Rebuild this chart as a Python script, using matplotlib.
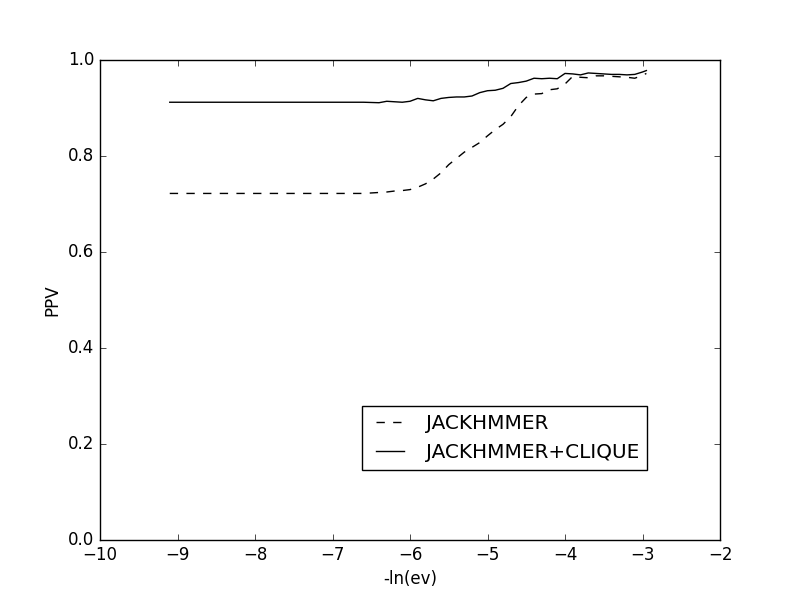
import matplotlib
matplotlib.use("Agg")
import matplotlib.pyplot as plt

plt.style.use("classic")

ln_ev = [-9.1, -6.6, -6.4, -6.3, -6.2, -6.1, -6.0, -5.9, -5.8, -5.7, -5.6, -5.5,
         -5.4, -5.3, -5.2, -5.1, -5.0, -4.9, -4.8, -4.7, -4.6, -4.5, -4.4, -4.3,
         -4.2, -4.1, -4.0, -3.9, -3.8, -3.7, -3.6, -3.5, -3.4, -3.3, -3.2, -3.1,
         -3.0, -2.95]

ppv_jackhmmer = [0.722, 0.722, 0.724, 0.725, 0.727, 0.728, 0.730, 0.735, 0.742,
                 0.752, 0.765, 0.782, 0.795, 0.808, 0.818, 0.828, 0.842, 0.855,
                 0.866, 0.882, 0.905, 0.922, 0.929, 0.930, 0.938, 0.940, 0.950,
                 0.966, 0.964, 0.963, 0.967, 0.967, 0.966, 0.965, 0.964, 0.962,
                 0.968, 0.972]

ppv_clique = [0.912, 0.912, 0.911, 0.914, 0.913, 0.912, 0.914, 0.920, 0.917,
              0.915, 0.920, 0.922, 0.923, 0.923, 0.925, 0.932, 0.936, 0.937,
              0.941, 0.951, 0.953, 0.956, 0.962, 0.961, 0.962, 0.961, 0.972,
              0.971, 0.969, 0.973, 0.972, 0.971, 0.970, 0.970, 0.969, 0.970,
              0.975, 0.978]

fig = plt.figure(figsize=(8, 6), dpi=100)
ax = fig.add_subplot(111)
ax.plot(ln_ev, ppv_jackhmmer, "k--", label="JACKHMMER")
ax.plot(ln_ev, ppv_clique, "k-", label="JACKHMMER+CLIQUE")
ax.set_xlim(-10, -2)
ax.set_ylim(0, 1.0)
ax.set_xlabel("-ln(ev)")
ax.set_ylabel("PPV")
ax.legend(loc="center", bbox_to_anchor=(0.653, 0.2125))

fig.savefig("out.png", dpi=100, facecolor="white")
